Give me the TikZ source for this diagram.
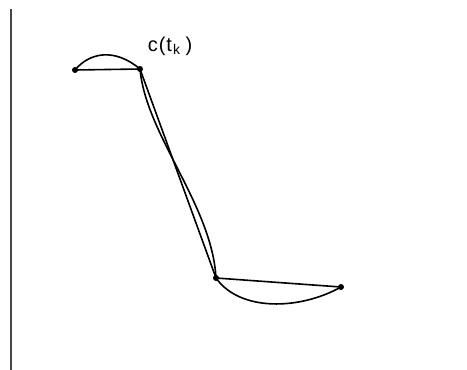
\documentclass[tikz,border=0pt]{standalone}
\usepackage{fontspec}
\setmainfont{Liberation Sans}
\usetikzlibrary{positioning}
\definecolor{axisgray}{RGB}{70,70,70}

\begin{document}
\begin{tikzpicture}[
  x=1pt, y=-1pt,
  every node/.style={font=\fontsize{20}{20}\selectfont},
  pt/.style={circle, fill=black, inner sep=0pt, minimum size=6pt},
  crv/.style={line width=1.6pt, black}
]
  \useasboundingbox (0,0) rectangle (467,370);
  \draw[axisgray, line width=2pt] (10.5,9) -- (10.5,370);

  \node[pt] (p0) at (75,70) {};
  \node[pt] (p1) at (140,69) {};
  \node[pt] (p2) at (216,278) {};
  \node[pt] (p3) at (341,287) {};
  \node (lbl) at (170,46) {c\kern1pt(\kern1pt t\textsubscript{\kern1pt k}\kern5pt)};

  % chords
  \draw[crv] (p0.center) -- (p1.center) -- (p2.center) -- (p3.center);
  % curve
  \draw[crv] (p0.center) .. controls (90,52) and (115,48) .. (p1.center)
    .. controls (146,135) and (212,205) .. (p2.center)
    .. controls (240,312) and (300,310) .. (p3.center);
\end{tikzpicture}
\end{document}
